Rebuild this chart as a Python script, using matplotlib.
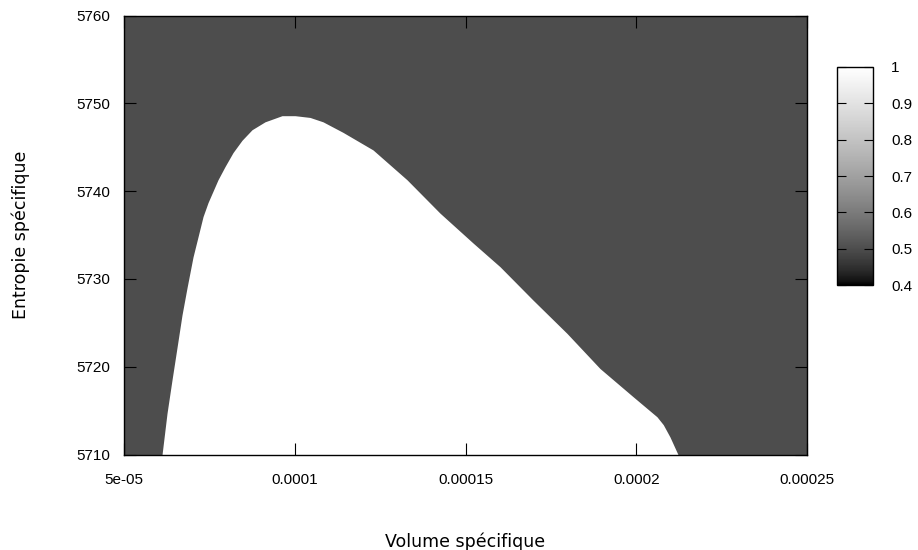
import numpy as np
import matplotlib
matplotlib.use("Agg")
import matplotlib.pyplot as plt
from matplotlib.colors import LinearSegmentedColormap, Normalize
from matplotlib.cm import ScalarMappable

# boundary of the region where the field equals 1
volume = [6.113e-5, 6.259e-5, 6.405e-5, 6.552e-5, 6.698e-5, 6.845e-5, 7.020e-5,
          7.167e-5, 7.313e-5, 7.460e-5, 7.606e-5, 7.752e-5, 7.957e-5, 8.192e-5,
          8.455e-5, 8.748e-5, 9.128e-5, 9.626e-5, 1.0007e-4, 1.0446e-4, 1.0827e-4,
          1.1412e-4, 1.2291e-4, 1.3286e-4, 1.4252e-4, 1.5219e-4, 1.6009e-4,
          1.6975e-4, 1.7971e-4, 1.8937e-4, 1.9903e-4, 2.0606e-4, 2.0791e-4,
          2.0987e-4, 2.1221e-4]
entropie = [5710.0, 5714.7, 5718.5, 5722.2, 5725.9, 5729.0, 5732.5,
            5734.8, 5737.1, 5738.7, 5740.0, 5741.3, 5742.8, 5744.4,
            5745.8, 5747.0, 5747.9, 5748.6, 5748.6, 5748.4, 5747.9,
            5746.7, 5744.7, 5741.3, 5737.5, 5734.1, 5731.4,
            5727.6, 5723.8, 5719.8, 5716.6, 5714.3, 5713.4,
            5712.0, 5710.0]
valeur_dedans = 1.0
valeur_dehors = 0.5

xticks = [5e-5, 1e-4, 1.5e-4, 2e-4, 2.5e-4]
xticklabels = ["5e-05", "0.0001", "0.00015", "0.0002", "0.00025"]
yticks = [5710, 5720, 5730, 5740, 5750, 5760]
cbticks = [0.4, 0.5, 0.6, 0.7, 0.8, 0.9, 1.0]
cbticklabels = ["0.4", "0.5", "0.6", "0.7", "0.8", "0.9", "1"]

# gnuplot style gray palette (gamma 1.5)
t = np.linspace(0, 1, 256)
g = t ** (1 / 1.5)
cmap = LinearSegmentedColormap.from_list("gris", np.column_stack([g, g, g]))
norm = Normalize(vmin=0.4, vmax=1.0)

fig = plt.figure(figsize=(9.18, 5.5), dpi=100)
ax = fig.add_axes([0.1351, 0.1736, 0.7440, 0.7980])
ax.set_facecolor(cmap(norm(valeur_dehors)))
ax.fill_between(volume, 5710, entropie, color=cmap(norm(valeur_dedans)), linewidth=0)
ax.set_xlim(5e-5, 2.5e-4)
ax.set_ylim(5710, 5760)

tickfont = "Liberation Sans"
ax.set_xticks(xticks)
ax.set_xticklabels(xticklabels, fontfamily=tickfont, fontsize=11)
ax.set_yticks(yticks)
ax.set_yticklabels([str(v) for v in yticks], fontfamily=tickfont, fontsize=11)
ax.tick_params(axis="x", direction="in", length=8.5, width=0.8, top=True, pad=13)
ax.tick_params(axis="y", direction="in", length=8.5, width=0.8, right=True, pad=10)
for s in ax.spines.values():
    s.set_linewidth(1.0)

ax.set_xlabel("Volume spécifique", fontsize=12.5, labelpad=33)
ax.set_ylabel("Entropie spécifique", fontsize=12.5, labelpad=33)

cax = fig.add_axes([0.9118, 0.4818, 0.0392, 0.3964])
sm = ScalarMappable(norm=norm, cmap=cmap)
cb = fig.colorbar(sm, cax=cax, ticks=cbticks)
cb.ax.set_yticklabels(cbticklabels, fontfamily=tickfont, fontsize=11)
cb.ax.tick_params(direction="in", length=6.5, width=0.8, left=True, right=True, pad=13)
cb.outline.set_linewidth(1.0)

fig.savefig("out.png", dpi=100)
